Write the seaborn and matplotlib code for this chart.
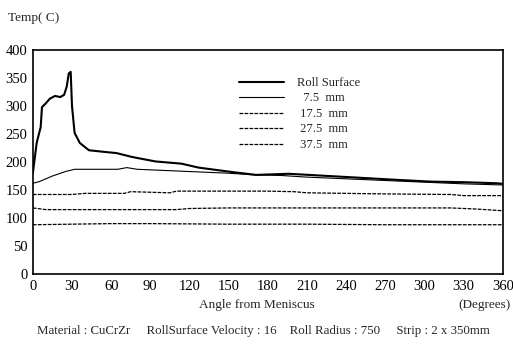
import numpy as np
import pandas as pd
import seaborn as sns
import matplotlib.pyplot as plt

# Angle from meniscus (degrees) and temperatures (C)
roll_angle = [0, 3, 6, 7, 10, 13, 17, 21, 24, 26, 27.5, 29, 30, 32, 36, 43, 55, 64, 76, 94, 114,
              127, 153, 171, 196, 242, 280, 305, 330, 356, 360]
roll_temp = [180, 235, 262, 298, 305, 313, 318, 316, 320, 335, 358, 361, 300, 252, 234, 221, 218, 216,
             209, 201, 197, 190, 182, 177, 179, 173, 168, 165, 164, 162, 161]

d75_angle = [0, 5, 15, 25, 32, 50, 65, 72, 80, 100, 120, 150, 170, 190, 210, 240, 270, 300, 330, 360]
d75_temp = [162, 165, 175, 183, 187, 187, 187, 190, 187, 185, 183, 180, 177, 176, 173, 170, 167, 164, 161, 159]

d175_angle = [0, 30, 40, 70, 75, 105, 110, 180, 200, 210, 270, 320, 330, 360]
d175_temp = [142, 142, 144, 144, 147, 145, 148, 148, 147, 145, 143, 142, 140, 140]

d275_angle = [0, 10, 110, 120, 150, 320, 340, 360]
d275_temp = [118, 115, 115, 117, 118, 118, 116, 113]

d375_angle = [0, 30, 60, 90, 150, 210, 270, 330, 360]
d375_temp = [88, 89, 90, 90, 89, 89, 88, 88, 88]

series = [
    ("Roll Surface", roll_angle, roll_temp, 1.5, "-"),
    ("  7.5  mm", d75_angle, d75_temp, 0.8, "-"),
    (" 17.5  mm", d175_angle, d175_temp, 0.9, (0, (3, 1))),
    (" 27.5  mm", d275_angle, d275_temp, 0.9, (0, (3, 1))),
    (" 37.5  mm", d375_angle, d375_temp, 0.9, (0, (3, 1))),
]

sns.set_style("white")
plt.rcParams['font.family'] = ['Liberation Serif', 'DejaVu Serif']

fig = plt.figure(figsize=(5.13, 3.48), dpi=100)
ax = fig.add_axes([0.064, 0.2126, 0.916, 0.6437])

for name, xs, ys, lw, ls in series:
    sns.lineplot(x=xs, y=ys, ax=ax, color="black", linewidth=lw, linestyle=ls, label=name)

ax.set_xlim(0, 360)
ax.set_ylim(0, 400)
ax.set_xticks(np.arange(0, 361, 30))
ax.set_yticks(np.arange(0, 401, 50))
ax.tick_params(direction="in", length=4, width=1, labelsize=10.5, colors="black", pad=4)
for s in ax.spines.values():
    s.set_color("black")
    s.set_linewidth(1.2)
ax.set_xlabel("")
ax.set_ylabel("")

leg = ax.legend(loc="upper left", bbox_to_anchor=(0.415, 0.93), frameon=False,
                handlelength=3.6, handletextpad=1.0, labelspacing=0.28, fontsize=9)

fig.text(0.016, 0.965, "Temp( C)", fontsize=9.5, va="top", ha="left")
fig.text(0.50, 0.124, "Angle from Meniscus", fontsize=9.5, ha="center", va="center")
fig.text(0.995, 0.124, "(Degrees)", fontsize=9.5, ha="right", va="center")
fig.text(0.513, 0.049, "Material : CuCrZr     RollSurface Velocity : 16    Roll Radius : 750     Strip : 2 x 350mm",
         fontsize=9.3, ha="center", va="center")

fig.savefig("out.png", dpi=100)
